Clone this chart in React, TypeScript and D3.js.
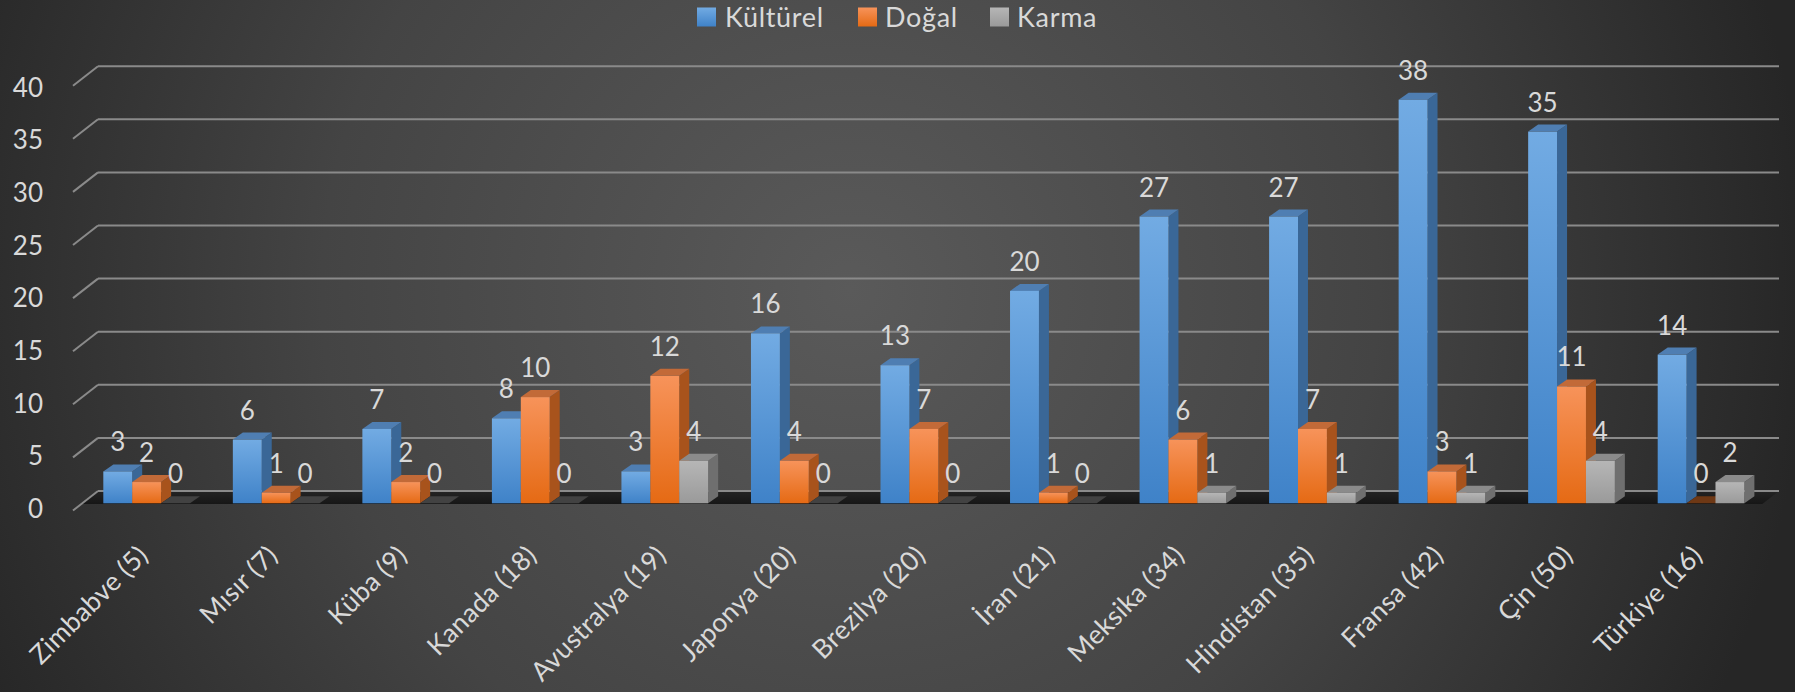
import React from "react";
import * as d3 from "d3";

const categories = ["Zimbabve (5)", "Mısır (7)", "Küba (9)", "Kanada (18)", "Avustralya (19)", "Japonya (20)", "Brezilya (20)", "İran (21)", "Meksika (34)", "Hindistan (35)", "Fransa (42)", "Çin (50)", "Türkiye (16)"];
const seriesNames = ["Kültürel", "Doğal", "Karma"];
const kulturel = [3, 6, 7, 8, 3, 16, 13, 20, 27, 27, 38, 35, 14];
const dogal = [2, 1, 2, 10, 12, 4, 7, 1, 6, 7, 3, 11, 0];
const karma = [0, 0, 0, 0, 4, 0, 0, 0, 1, 1, 1, 4, 2];
const yTicks = [0, 5, 10, 15, 20, 25, 30, 35, 40];

const W = 1795;
const H = 692;
const FONT = "Lato, 'Open Sans', sans-serif";
const TXT = "#d9d9d9";

const palette = [
  { id: "b", f0: "#72abe3", f1: "#3f82c8", side: "#3a6797", top: "#4f7eb2", zero: "#2c4d70" },
  { id: "o", f0: "#f7935a", f1: "#e56a14", side: "#a8531c", top: "#c26a38", zero: "#6e3815" },
  { id: "g", f0: "#b6b6b6", f1: "#9a9a9a", side: "#6f6f6f", top: "#8b8b8b", zero: "#424242" },
];

export default function App() {
  const values = [kulturel, dogal, karma];
  const x = d3.scaleBand<string>().domain(categories).range([81.9, 1765.8]).paddingInner(0.3307).paddingOuter(0.1653);
  const xs = d3.scaleBand<string>().domain(seriesNames).range([0, x.bandwidth()]).padding(0);
  const yFront = d3.scaleLinear().domain([0, 40]).range([503.3, 503.3 - 40 * 10.62]);
  const yBack = d3.scaleLinear().domain([0, 40]).range([491, 491 - 40 * 10.62]);
  const yLabel = d3.scaleLinear().domain([0, 40]).range([508, 86.7]);
  const bdx = 10, bdy = -7;
  const wallX0 = 73, wallX1 = 98, wallDy = 19.5, backRight = 1779;
  const floorDy = 13;
  const floorDx = 25 * (floorDy / wallDy);

  const bars: React.ReactNode[] = [];
  const labels: React.ReactNode[] = [];
  categories.forEach((c, i) => {
    seriesNames.forEach((s, j) => {
      const v = values[j][i];
      const p = palette[j];
      const x0 = (x(c) as number) + (xs(s) as number);
      const w = xs.bandwidth();
      const yb = yFront(0);
      const yt = yFront(v);
      const key = `${i}-${j}`;
      if (v === 0) {
        bars.push(
          <polygon key={key} points={`${x0},${yb} ${x0 + bdx},${yb + bdy} ${x0 + w + bdx},${yb + bdy} ${x0 + w},${yb}`} fill={p.zero} />
        );
      } else {
        bars.push(
          <g key={key}>
            <polygon points={`${x0 + w},${yt} ${x0 + w + bdx},${yt + bdy} ${x0 + w + bdx},${yb + bdy} ${x0 + w},${yb}`} fill={p.side} />
            <polygon points={`${x0},${yt} ${x0 + bdx},${yt + bdy} ${x0 + w + bdx},${yt + bdy} ${x0 + w},${yt}`} fill={p.top} />
            <rect x={x0} y={yt} width={w} height={yb - yt} fill={`url(#grad-${p.id})`} />
          </g>
        );
      }
      labels.push(
        <text key={"l" + key} x={x0 + w / 2} y={yt - 20} textAnchor="middle" fontSize={26} fill={TXT} fontFamily={FONT}>
          {v}
        </text>
      );
    });
  });

  const legendX = [697, 858, 990];
  const legendTX = [725, 885, 1017];

  return (
    <svg width={W} height={H} style={{ position: "absolute", left: 0, top: 0 }} xmlns="http://www.w3.org/2000/svg">
      <defs>
        <radialGradient id="bg" gradientUnits="userSpaceOnUse" cx={850} cy={290} r={960}>
          <stop offset="0" stopColor="#5a5a5a" />
          <stop offset="0.55" stopColor="#444444" />
          <stop offset="1" stopColor="#262626" />
        </radialGradient>
        {palette.map((p) => (
          <linearGradient key={p.id} id={`grad-${p.id}`} x1="0" y1="0" x2="0" y2="1">
            <stop offset="0" stopColor={p.f0} />
            <stop offset="1" stopColor={p.f1} />
          </linearGradient>
        ))}
        <linearGradient id="floor" x1="0" y1="0" x2="0" y2="1">
          <stop offset="0" stopColor="#242424" />
          <stop offset="1" stopColor="#161616" />
        </linearGradient>
      </defs>
      <rect x={0} y={0} width={W} height={H} fill="url(#bg)" />

      {/* floor */}
      <polygon
        points={`${wallX1 - floorDx},${yBack(0) + floorDy} ${wallX1},${yBack(0)} ${backRight},${yBack(0)} ${backRight - floorDx},${yBack(0) + floorDy}`}
        fill="url(#floor)"
      />

      {/* gridlines */}
      {yTicks.map((t) => (
        <g key={t}>
          <line x1={wallX1} x2={backRight} y1={yBack(t)} y2={yBack(t)} stroke="#8a8a8a" strokeWidth={2} />
          <line x1={wallX0} y1={yBack(t) + wallDy} x2={wallX1} y2={yBack(t)} stroke="#8a8a8a" strokeWidth={2} />
        </g>
      ))}

      {/* y tick labels */}
      {yTicks.map((t) => (
        <text key={"yt" + t} x={43} y={yLabel(t)} textAnchor="end" dominantBaseline="central" fontSize={26} fill={TXT} fontFamily={FONT}>
          {t}
        </text>
      ))}

      {bars}
      {labels}

      {/* x labels */}
      {categories.map((c) => {
        const cx = (x(c) as number) + x.bandwidth() / 2 + 3;
        const cy = 557;
        return (
          <text key={"x" + c} x={cx} y={cy} transform={`rotate(-45, ${cx}, ${cy})`} textAnchor="end" fontSize={26.5} letterSpacing={0.3} fill={TXT} fontFamily={FONT}>
            {c}
          </text>
        );
      })}

      {/* legend */}
      {seriesNames.map((s, j) => (
        <g key={"lg" + s}>
          <rect x={legendX[j]} y={7.5} width={19} height={19} fill={`url(#grad-${palette[j].id})`} />
          <text x={legendTX[j]} y={27} fontSize={27} letterSpacing={0.7} fill={TXT} fontFamily={FONT}>
            {s}
          </text>
        </g>
      ))}
    </svg>
  );
}
